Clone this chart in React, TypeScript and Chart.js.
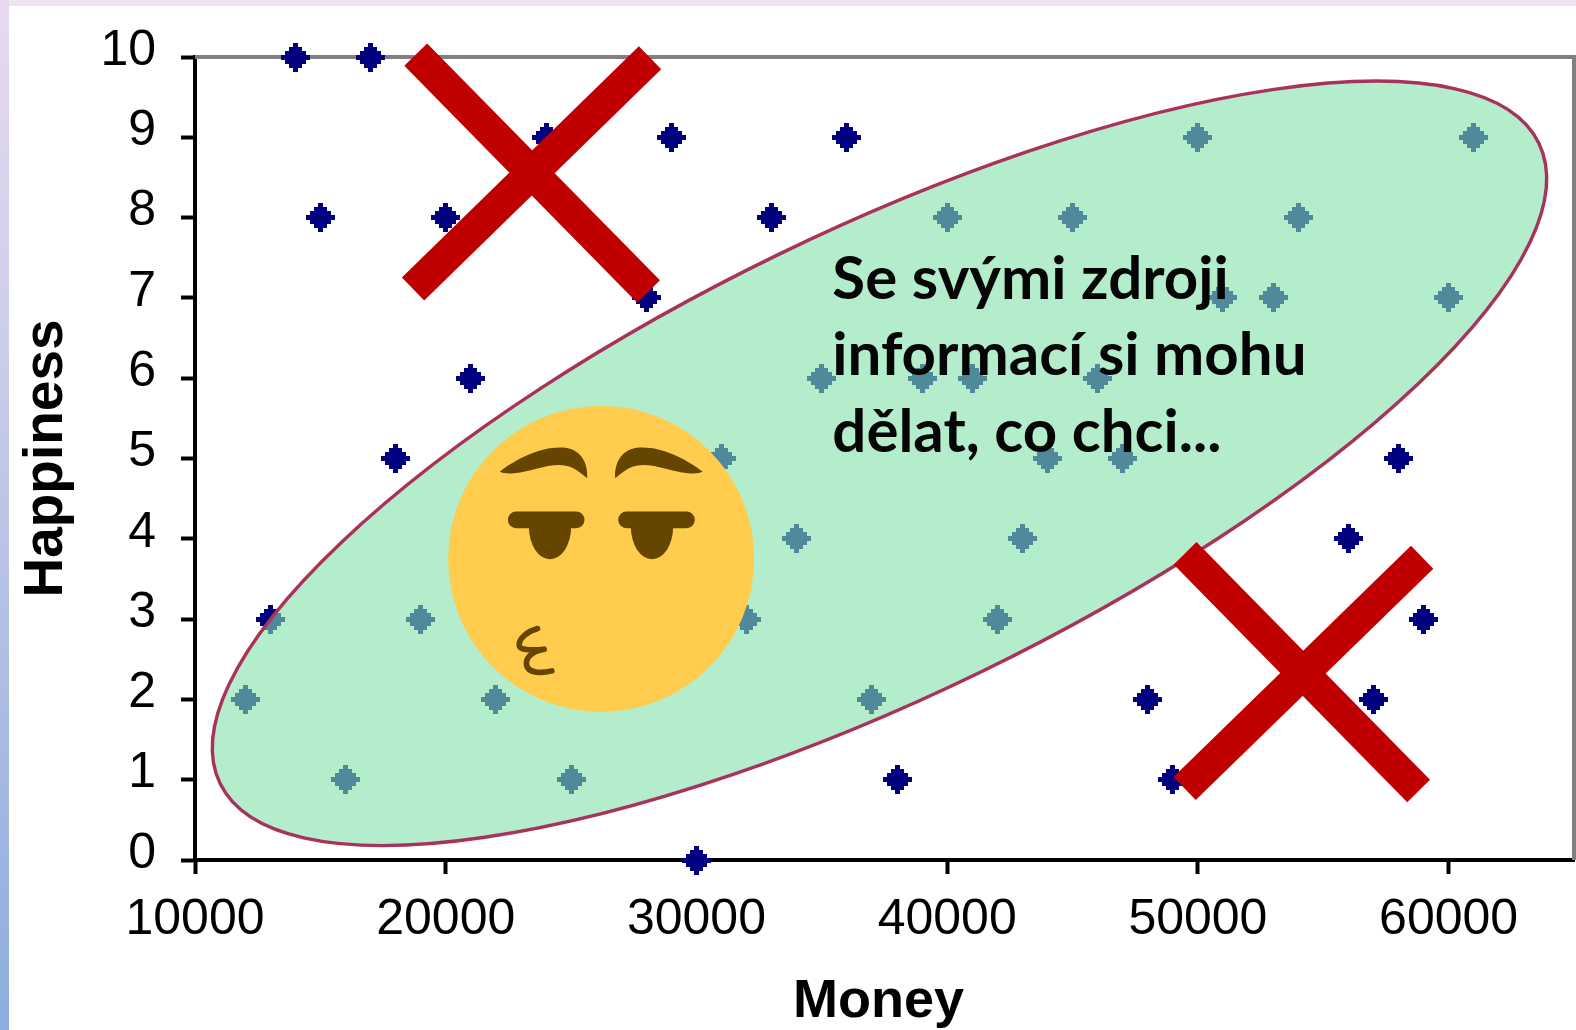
import React, { useEffect, useRef } from "react";
import { Chart, registerables } from "chart.js";

Chart.register(...registerables);

const moneyValues = [
  14000, 17000, 24000, 29000, 36000, 50000, 61000, 15000, 20000, 33000, 40000, 45000, 54000,
  28000, 51000, 53000, 60000, 21000, 35000, 39000, 41000, 46000, 18000, 31000, 44000, 47000,
  58000, 34000, 43000, 56000, 13000, 19000, 32000, 42000, 59000, 12000, 22000, 37000, 48000,
  57000, 16000, 25000, 38000, 49000, 30000,
];
const happinessValues = [
  10, 10, 9, 9, 9, 9, 9, 8, 8, 8, 8, 8, 8,
  7, 7, 7, 7, 6, 6, 6, 6, 6, 5, 5, 5, 5,
  5, 4, 4, 4, 3, 3, 3, 3, 3, 2, 2, 2, 2,
  2, 1, 1, 1, 1, 0,
];
const xTickValues = [10000, 20000, 30000, 40000, 50000, 60000];
const xAxisTitle = "Money";
const yAxisTitle = "Happiness";
const noteLines = ["Se svými zdroji", "informací si mohu", "dělat, co chci..."];
const noteAnchor = [35420, 6.99];
const ellipseCentre = [37300, 4.94];
const emojiCentre = [26200, 3.75];
const crossBars = [
  [18803, 10.03, 28089, 7.08],
  [18696, 7.11, 28149, 9.99],
  [49489, 3.82, 58803, 0.86],
  [49469, 0.89, 58943, 3.77],
];

function makeDiamond(): HTMLCanvasElement {
  const c = document.createElement("canvas");
  c.width = 29;
  c.height = 29;
  const g = c.getContext("2d")!;
  g.fillStyle = "#000080";
  let y = 0;
  [4, 12, 20, 28, 20, 12, 4].forEach((w, i) => {
    const h = i === 3 ? 5 : 4;
    g.fillRect(Math.floor((29 - w) / 2), y, w + 1, h);
    y += h;
  });
  return c;
}

function drawEmoji(g: CanvasRenderingContext2D, cx: number, cy: number) {
  g.save();
  g.translate(cx, cy);
  g.fillStyle = "#FFCC4D";
  g.beginPath();
  g.arc(0, 0, 153, 0, Math.PI * 2);
  g.fill();
  // Feature paths use units of a third of a pixel, origin at the face centre.
  g.scale(1 / 3, 1 / 3);
  g.translate(-511, -507);
  g.fillStyle = "#664500";
  g.strokeStyle = "#664500";
  for (const mirror of [false, true]) {
    g.save();
    if (mirror) {
      g.translate(1022, 0);
      g.scale(-1, 1);
    }
    g.beginPath();
    g.moveTo(207, 245);
    g.bezierCurveTo(260, 205, 330, 170, 395, 173);
    g.bezierCurveTo(450, 175, 472, 220, 469, 265);
    g.bezierCurveTo(455, 255, 430, 225, 385, 225);
    g.bezierCurveTo(340, 225, 300, 245, 250, 250);
    g.bezierCurveTo(230, 252, 212, 250, 207, 245);
    g.closePath();
    g.fill();
    g.restore();
  }
  for (const [barX, eyeX] of [[231, 357.5], [562, 663.5]]) {
    g.beginPath();
    g.roundRect(barX, 365, 230, 50, 25);
    g.fill();
    g.beginPath();
    g.ellipse(eyeX, 410, 63.5, 98, 0, 0, Math.PI);
    g.fill();
  }
  g.lineWidth = 17;
  g.lineCap = "round";
  g.lineJoin = "round";
  g.beginPath();
  g.moveTo(320, 716);
  g.bezierCurveTo(290, 725, 264, 745, 265, 766);
  g.bezierCurveTo(266, 780, 295, 782, 340, 778);
  g.bezierCurveTo(300, 785, 284, 805, 287, 825);
  g.bezierCurveTo(292, 852, 335, 850, 363, 843);
  g.stroke();
  g.restore();
}

const backdrop = {
  id: "backdrop",
  beforeDraw(chart: any) {
    const g = chart.ctx as CanvasRenderingContext2D;
    const { width, height } = chart;
    g.save();
    g.fillStyle = "#ffffff";
    g.fillRect(0, 0, width, height);
    const side = g.createLinearGradient(0, 0, 0, height);
    side.addColorStop(0, "#E8D9F1");
    side.addColorStop(0.3, "#CFCFEA");
    side.addColorStop(0.75, "#A5B9E2");
    side.addColorStop(1, "#8CAEDE");
    g.fillStyle = side;
    g.fillRect(0, 0, 9, height);
    g.fillStyle = "#ECE2F3";
    g.fillRect(9, 0, width - 9, 6);
    g.restore();
  },
  beforeDatasetsDraw(chart: any) {
    const g = chart.ctx as CanvasRenderingContext2D;
    const { left, top, right, bottom } = chart.chartArea;
    g.save();
    g.strokeStyle = "#808080";
    g.lineWidth = 4;
    g.beginPath();
    g.moveTo(left, top);
    g.lineTo(right, top);
    g.lineTo(right, bottom);
    g.stroke();
    g.restore();
    g.imageSmoothingEnabled = false;
  },
};

const overlay = {
  id: "overlay",
  afterDatasetsDraw(chart: any) {
    const g = chart.ctx as any;
    const sx = chart.scales.x;
    const sy = chart.scales.y;
    g.imageSmoothingEnabled = true;
    g.save();
    g.beginPath();
    g.ellipse(
      sx.getPixelForValue(ellipseCentre[0]),
      sy.getPixelForValue(ellipseCentre[1]),
      733,
      232,
      (-25.9 * Math.PI) / 180,
      0,
      Math.PI * 2,
    );
    g.fillStyle = "rgba(131,226,170,0.61)";
    g.fill();
    g.strokeStyle = "#A8325A";
    g.lineWidth = 3.4;
    g.stroke();

    drawEmoji(g, sx.getPixelForValue(emojiCentre[0]), sy.getPixelForValue(emojiCentre[1]));

    g.fillStyle = "#050505";
    g.font = "bold 60px Lato";
    g.textRendering = "optimizeSpeed";
    g.textAlign = "left";
    g.textBaseline = "alphabetic";
    noteLines.forEach((line, i) => {
      g.fillText(line, sx.getPixelForValue(noteAnchor[0]), sy.getPixelForValue(noteAnchor[1]) + i * 76.7);
    });

    g.strokeStyle = "#C00000";
    g.lineWidth = 32;
    g.lineCap = "butt";
    for (const [x0, y0, x1, y1] of crossBars) {
      g.beginPath();
      g.moveTo(sx.getPixelForValue(x0), sy.getPixelForValue(y0));
      g.lineTo(sx.getPixelForValue(x1), sy.getPixelForValue(y1));
      g.stroke();
    }
    g.restore();
  },
};

const tickFont = { family: "'Liberation Sans'", size: 50, weight: "normal" as const };

export default function App() {
  const ref = useRef<HTMLCanvasElement>(null);
  useEffect(() => {
    const chart = new Chart(ref.current!, {
      type: "scatter",
      data: {
        datasets: [
          {
            label: "Happiness",
            data: moneyValues.map((x, i) => ({ x, y: happinessValues[i] })),
            pointStyle: makeDiamond() as any,
            pointRadius: 0.2,
            pointHoverRadius: 0.2,
            pointBorderWidth: 0,
            pointHoverBorderWidth: 0,
            clip: false as any,
          },
        ],
      },
      options: {
        responsive: false,
        animation: false,
        layout: { padding: { top: 57, right: 2, left: 0, bottom: 0 } },
        plugins: { legend: { display: false }, tooltip: { enabled: false } },
        scales: {
          x: {
            type: "linear",
            min: 10000,
            max: 65000,
            afterBuildTicks(scale: any) {
              scale.ticks = xTickValues.map((value) => ({ value }));
            },
            afterFit(scale: any) {
              scale.height = 170;
              scale.paddingLeft = 0;
              scale.paddingRight = 0;
            },
            afterUpdate(scale: any) {
              if (scale.__shifted) return;
              scale.__shifted = true;
              const drawTitle = scale.drawTitle;
              scale.drawTitle = function () {
                this.ctx.save();
                this.ctx.translate(-6, 0);
                drawTitle.call(this);
                this.ctx.restore();
              };
            },
            border: { color: "#000", width: 4 },
            grid: { drawOnChartArea: false, drawTicks: true, tickLength: 14, tickWidth: 4, tickColor: "#000" },
            ticks: {
              color: "#000",
              font: tickFont,
              padding: 16,
              maxRotation: 0,
              autoSkip: false,
              callback: (v: any) => String(v),
            },
            title: {
              display: true,
              text: xAxisTitle,
              color: "#000",
              font: { family: "'Liberation Sans'", size: 54, weight: "bold" },
              padding: -5,
            },
          },
          y: {
            type: "linear",
            min: 0,
            max: 10,
            afterFit(scale: any) {
              scale.width = 195;
              scale.paddingTop = 0;
              scale.paddingBottom = 0;
            },
            border: { color: "#000", width: 4 },
            grid: { drawOnChartArea: false, drawTicks: true, tickLength: 14, tickWidth: 4, tickColor: "#000" },
            ticks: {
              stepSize: 1,
              color: "#000",
              font: tickFont,
              padding: 25,
              labelOffset: -6,
              callback: (v: any) => String(v),
            },
            title: {
              display: true,
              text: yAxisTitle,
              color: "#000",
              font: { family: "'Liberation Sans'", size: 55, weight: "bold" },
              padding: 14,
            },
          },
        },
      },
      plugins: [backdrop, overlay],
    });
    return () => chart.destroy();
  }, []);
  return (
    <div style={{ position: "absolute", left: 0, top: 0, width: 1576, height: 1030, overflow: "hidden" }}>
      <canvas ref={ref} width={1576} height={1030} style={{ display: "block" }} />
    </div>
  );
}
